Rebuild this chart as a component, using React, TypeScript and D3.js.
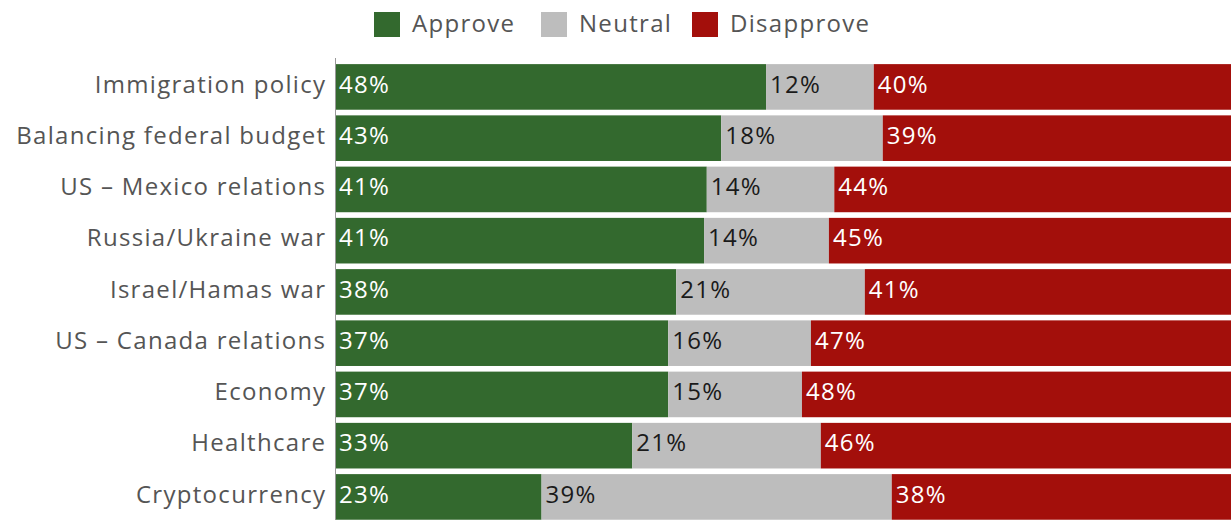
import * as d3 from "d3";

const categories = [
  "Immigration policy",
  "Balancing federal budget",
  "US – Mexico relations",
  "Russia/Ukraine war",
  "Israel/Hamas war",
  "US – Canada relations",
  "Economy",
  "Healthcare",
  "Cryptocurrency",
];

// shares; labels are the rounded values
const approve = [48, 43, 41.4, 41.1, 38, 37.1, 37.1, 33.1, 23];
const neutral = [12, 18, 14.2, 13.9, 21, 15.9, 14.9, 21, 39];
const disapprove = [40, 39, 44.4, 45, 41, 47, 48, 45.9, 38];

const seriesNames = ["Approve", "Neutral", "Disapprove"];
const colors = ["#33692e", "#bdbdbd", "#a30f0b"];
const textColors = ["#ffffff", "#1a1a1a", "#ffffff"];

const W = 1231;
const H = 520;
const FONT = "'Open Sans', Lato, sans-serif";
const FS = 24;
const LS = 1.3;

export default function App() {
  const rows = categories.map((c, i) => ({
    category: c,
    Approve: approve[i],
    Neutral: neutral[i],
    Disapprove: disapprove[i],
  }));

  const stack = d3.stack<(typeof rows)[number]>().keys(seriesNames);
  const layers = stack(rows);

  const x = d3.scaleLinear().domain([0, 100]).range([335, 1233]);
  const y = d3
    .scaleBand()
    .domain(categories)
    .range([61.3, 61.3 + 51.25 * categories.length])
    .paddingInner(0.11)
    .paddingOuter(0.055);

  const legendX = [374, 541, 692];

  return (
    <svg
      width={W}
      height={H}
      style={{ position: "absolute", left: 0, top: 0, fontFamily: FONT, letterSpacing: LS }}
    >
      {/* Legend */}
      {seriesNames.map((s, i) => (
        <g key={s} transform={`translate(${legendX[i]},12)`}>
          <rect width={26} height={25} fill={colors[i]} />
          <text x={38} y={12.5} dy="0.3em" fontSize={FS} fill="#555">
            {s}
          </text>
        </g>
      ))}

      {/* Bars */}
      {layers.map((layer, li) => (
        <g key={layer.key}>
          {layer.map((d, i) => (
            <g key={i}>
              <rect
                x={x(d[0])}
                y={y(categories[i])}
                width={x(d[1]) - x(d[0])}
                height={y.bandwidth()}
                fill={colors[li]}
              />
              <text
                x={x(d[0]) + 4}
                y={(y(categories[i]) ?? 0) + y.bandwidth() / 2}
                dy="0.24em"
                fontSize={FS}
                fill={textColors[li]}
              >
                {Math.round(d[1] - d[0])}%
              </text>
            </g>
          ))}
        </g>
      ))}

      {/* Axis line */}
      <line x1={335.5} x2={335.5} y1={58} y2={H} stroke="#999" strokeWidth={1} />

      {/* Category labels */}
      {categories.map((c) => (
        <text
          key={c}
          x={325 + LS}
          y={(y(c) ?? 0) + y.bandwidth() / 2}
          dy="0.24em"
          textAnchor="end"
          fontSize={FS}
          fill="#555"
        >
          {c}
        </text>
      ))}
    </svg>
  );
}
